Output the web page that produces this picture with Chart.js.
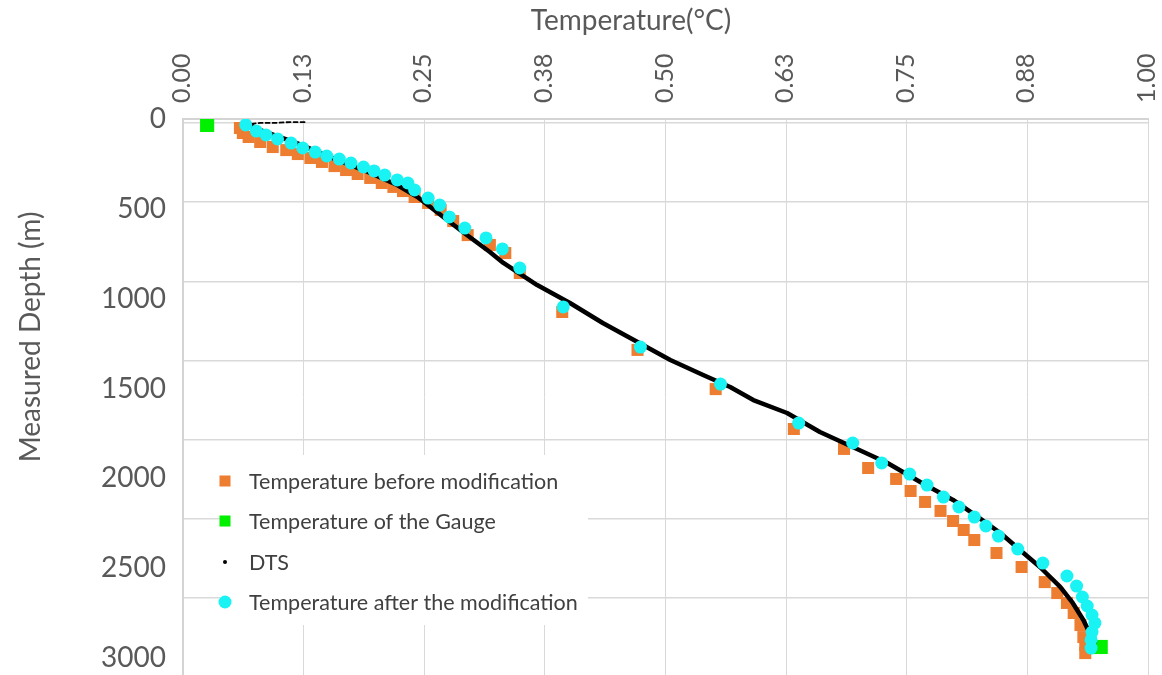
<!DOCTYPE html>
<html>
<head>
<meta charset="utf-8">
<script src="https://cdn.jsdelivr.net/npm/chart.js@4.4.0/dist/chart.umd.min.js"></script>
<style>
html,body{margin:0;padding:0;background:#ffffff;}
#wrap{width:1162px;height:675px;position:relative;}
</style>
</head>
<body>
<div id="wrap"><canvas id="c" width="1162" height="675"></canvas></div>
<script>
// ---- Data ----
const xTitle = 'Temperature(°C)';
const yTitle = 'Measured Depth (m)';
const xTickValues = [0, 0.125, 0.25, 0.375, 0.5, 0.625, 0.75, 0.875, 1];
const yTickValues = [0, 500, 1000, 1500, 2000, 2500, 3000];
// horizontal gridlines of the source picture (not aligned with its depth labels)
const gridDepths = [22, 463, 904, 1344, 1785, 2226, 2666];

const beforeLabel = 'Temperature before modification';
const beforeT = [0.059,0.062,0.068,0.080,0.093,0.107,0.119,0.132,0.144,0.157,0.169,0.181,0.194,0.206,0.218,0.228,0.240,0.254,0.267,0.280,0.295,0.318,0.334,0.349,0.393,0.471,0.552,0.633,0.685,0.710,0.739,0.754,0.769,0.785,0.798,0.809,0.820,0.843,0.869,0.893,0.906,0.916,0.923,0.930,0.933,0.935,0.935];
const beforeD = [50,78,100,128,156,173,195,217,239,262,284,306,328,356,378,401,434,467,506,568,646,701,746,857,1074,1285,1503,1725,1836,1942,2003,2070,2131,2181,2237,2287,2343,2415,2493,2577,2638,2693,2749,2816,2883,2927,2972];

const gaugeLabel = 'Temperature of the Gauge';
const gaugeT = [0.025, 0.951];
const gaugeD = [33, 2938];

const dtsLabel = 'DTS';
const dtsT = [0.126,0.111,0.095,0.080,0.069,0.075,0.083,0.118,0.152,0.187,0.222,0.243,0.263,0.290,0.318,0.332,0.367,0.401,0.435,0.471,0.505,0.539,0.567,0.591,0.626,0.660,0.694,0.730,0.764,0.798,0.821,0.847,0.871,0.888,0.909,0.922,0.933,0.938,0.942,0.945];
const dtsD = [17,17,22,22,28,50,67,134,211,284,367,434,518,629,740,801,924,1024,1135,1241,1341,1425,1491,1564,1636,1742,1825,1914,2020,2120,2204,2304,2415,2493,2604,2693,2788,2844,2888,2910];

const afterLabel = 'Temperature after the modification';
const afterT = [0.065,0.076,0.086,0.098,0.112,0.124,0.137,0.149,0.162,0.174,0.187,0.198,0.209,0.222,0.233,0.240,0.254,0.266,0.276,0.292,0.314,0.331,0.349,0.394,0.474,0.557,0.638,0.694,0.724,0.753,0.771,0.788,0.804,0.820,0.832,0.845,0.865,0.891,0.916,0.926,0.932,0.937,0.942,0.945,0.942,0.941,0.941];
const afterD = [33,67,89,111,134,161,184,206,223,245,267,289,312,339,356,395,440,479,545,607,662,723,829,1046,1269,1475,1692,1803,1914,1976,2037,2104,2159,2215,2265,2321,2393,2471,2543,2599,2660,2710,2760,2805,2855,2899,2944];

const depthMax = 3094;

// ---- build points ----
const pts = (T, D) => T.map((t, i) => ({x: t, y: D[i]}));

Chart.defaults.font.family = 'Lato, "Open Sans", sans-serif';

const overlay = {
  id: 'overlay',
  afterDraw(chart) {
    const ctx = chart.ctx;
    const ds = chart.data.datasets;
    ctx.save();
    // axis titles
    ctx.fillStyle = '#595959';
    ctx.font = '28px Lato';
    ctx.textAlign = 'center';
    ctx.textBaseline = 'middle';
    ctx.fillText(xTitle, 631, 21);
    ctx.save();
    ctx.font = '28px Lato';
    ctx.translate(31, 337);
    ctx.rotate(-Math.PI / 2);
    ctx.fillText(yTitle, 0, 0);
    ctx.restore();

    // legend box inside plot
    ctx.fillStyle = '#ffffff';
    ctx.fillRect(220, 455, 368, 170);
    const order = [3, 2, 1, 0]; // before, gauge, DTS, after
    const rowY = [481, 521, 562, 602];
    ctx.font = '21.5px Lato';
    ctx.textAlign = 'left';
    order.forEach((idx, k) => {
      const d = ds[idx];
      const cx = 225, cy = rowY[k];
      ctx.fillStyle = d.backgroundColor;
      if (d.pointStyle === 'rect') {
        ctx.fillRect(cx - 5.5, cy - 5.5, 11, 11);
      } else {
        const r = idx === 1 ? 2 : 6.5;
        ctx.beginPath();
        ctx.arc(cx, cy, r, 0, Math.PI * 2);
        ctx.fill();
      }
      ctx.fillStyle = '#404040';
      ctx.fillText(d.label, 249, cy + 1);
    });
    ctx.restore();
  }
};

new Chart(document.getElementById('c'), {
  type: 'scatter',
  data: {
    datasets: [
      {
        label: afterLabel,
        data: pts(afterT, afterD),
        pointStyle: 'circle',
        pointRadius: 6.5,
        backgroundColor: '#19F3F3',
        borderColor: '#19F3F3',
        borderWidth: 0,
        order: 0
      },
      {
        label: dtsLabel,
        data: pts(dtsT, dtsD),
        showLine: true,
        borderColor: '#000000',
        backgroundColor: '#000000',
        borderWidth: 4.5,
        pointRadius: 0,
        pointStyle: 'circle',
        borderJoinStyle: 'round',
        borderCapStyle: 'round',
        segment: {
          borderWidth: c => (c.p0DataIndex < 4 ? 1.8 : 4.5),
          borderDash: c => (c.p0DataIndex < 4 ? [4, 3] : [])
        },
        order: 1
      },
      {
        label: gaugeLabel,
        data: pts(gaugeT, gaugeD),
        pointStyle: 'rect',
        pointRadius: 10,
        backgroundColor: '#00F000',
        borderColor: '#00F000',
        borderWidth: 0,
        order: 2
      },
      {
        label: beforeLabel,
        data: pts(beforeT, beforeD),
        pointStyle: 'rect',
        pointRadius: 8.5,
        backgroundColor: '#ED7D31',
        borderColor: '#ED7D31',
        borderWidth: 0,
        order: 3
      }
    ]
  },
  options: {
    responsive: false,
    animation: false,
    devicePixelRatio: 1,
    layout: { autoPadding: false, padding: { left: 0, right: 14, top: 0, bottom: 0 } },
    plugins: {
      legend: { display: false },
      tooltip: { enabled: false }
    },
    scales: {
      x: {
        type: 'linear',
        position: 'top',
        min: 0,
        max: 1,
        afterBuildTicks: s => { s.ticks = xTickValues.map(v => ({ value: v })); },
        afterFit: s => { s.height = 119; s.paddingLeft = 0; s.paddingRight = 0; s.paddingTop = 0; s.paddingBottom = 0; },
        ticks: {
          callback: v => Number(v).toFixed(2),
          minRotation: 90,
          maxRotation: 90,
          autoSkip: false,
          padding: 16,
          labelOffset: 29,
          color: '#595959',
          font: { size: 25 }
        },
        grid: { color: '#d9d9d9', lineWidth: 1, drawTicks: false },
        border: { display: true, color: '#d4d4d4', width: 2 }
      },
      y: {
        type: 'linear',
        position: 'left',
        reverse: true,
        min: 0,
        max: depthMax,
        weight: 1,
        afterBuildTicks: s => { s.ticks = yTickValues.map(v => ({ value: v })); },
        afterFit: s => { s.width = 183; s.paddingLeft = 0; s.paddingRight = 0; s.paddingTop = 0; s.paddingBottom = 0; },
        ticks: {
          callback: v => String(v),
          padding: 17,
          color: '#595959',
          font: { size: 28 }
        },
        grid: { display: false, drawTicks: false },
        border: { display: true, color: '#d4d4d4', width: 2 }
      },
      yg: {
        type: 'linear',
        position: 'left',
        reverse: true,
        min: 0,
        max: depthMax,
        weight: 0,
        afterBuildTicks: s => { s.ticks = gridDepths.map(v => ({ value: v })); },
        afterFit: s => { s.width = 0; s.paddingLeft = 0; s.paddingRight = 0; s.paddingTop = 0; s.paddingBottom = 0; },
        ticks: { display: false },
        grid: { color: '#d9d9d9', lineWidth: 1.5, drawTicks: false },
        border: { display: false }
      }
    }
  },
  plugins: [overlay]
});
</script>
</body>
</html>
